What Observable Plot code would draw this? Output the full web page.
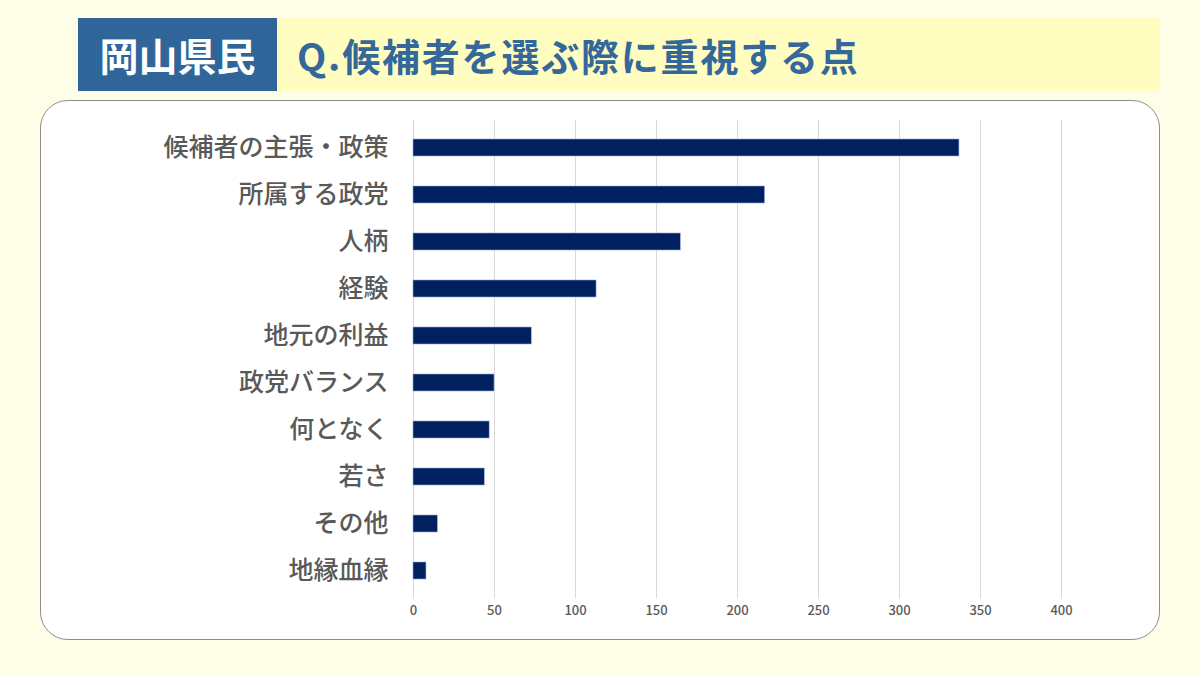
<!DOCTYPE html>
<html>
<head>
<meta charset="utf-8">
<script src="https://cdn.jsdelivr.net/npm/d3@7"></script>
<script src="https://cdn.jsdelivr.net/npm/@observablehq/plot@0.6"></script>
<style>
  html, body { margin: 0; padding: 0; background: #FEFDE8; }
  #wrap { position: relative; width: 1200px; height: 675px; overflow: hidden; background: #FEFDE8;
          font-family: "Noto Sans CJK JP", "Noto Sans", sans-serif; }
  #tag { position: absolute; left: 78px; top: 18px; width: 199px; height: 73px; background: #30659A;
         color: #fff; font-size: 39px; font-weight: 700; line-height: 73px; text-align: center; }
  #band { position: absolute; left: 277px; top: 18px; width: 883px; height: 73px; background: #FFFDC0; }
  #title { position: absolute; left: 297px; top: 18px; height: 73px; line-height: 73px; color: #34689B;
           font-size: 38px; font-weight: 700; white-space: nowrap; letter-spacing: 1.8px; }
  #panel { position: absolute; left: 40px; top: 100px; width: 1118px; height: 538px; background: #fff;
           border: 1.5px solid #8c8c8c; border-radius: 28px; }
  #chart { position: absolute; left: 0; top: 0; }
  #chart svg { background: transparent; }
</style>
</head>
<body>
<div id="wrap">
  <div id="tag">岡山県民</div>
  <div id="band"></div>
  <div id="title">Q.候補者を選ぶ際に重視する点</div>
  <div id="panel"></div>
  <div id="chart"></div>
</div>
<script>
const categories = ["候補者の主張・政策", "所属する政党", "人柄", "経験", "地元の利益", "政党バランス", "何となく", "若さ", "その他", "地縁血縁"];
const values = [337, 217, 165, 113, 73, 50, 47, 44, 15, 8];
const xTicks = [0, 50, 100, 150, 200, 250, 300, 350, 400];

const data = categories.map((c, i) => ({category: c, value: values[i]}));

const chart = Plot.plot({
  width: 1200,
  height: 675,
  marginLeft: 413,
  marginRight: 139,
  marginTop: 123.5,
  marginBottom: 80.5,
  style: {background: "transparent", fontFamily: "'Noto Sans CJK JP', 'Noto Sans', sans-serif"},
  x: {domain: [0, 400], ticks: xTicks},
  y: {domain: categories, paddingInner: 0.64, paddingOuter: 0.32},
  marks: [
    Plot.gridX(xTicks, {stroke: "#d9d9d9", strokeOpacity: 1, strokeWidth: 1, insetTop: -4, insetBottom: -4}),
    Plot.barX(data, {x: "value", y: "category", fill: "#002060", stroke: "#8faadc", strokeWidth: 0.6}),
    Plot.axisX({ticks: xTicks, tickSize: 0, tickPadding: 11, fontSize: 13, fontWeight: 500, color: "#595959", label: null}),
    Plot.axisY({tickSize: 0, tickPadding: 25, fontSize: 25, fontWeight: 500, color: "#595959", label: null})
  ]
});
document.getElementById("chart").appendChild(chart);
</script>
</body>
</html>
